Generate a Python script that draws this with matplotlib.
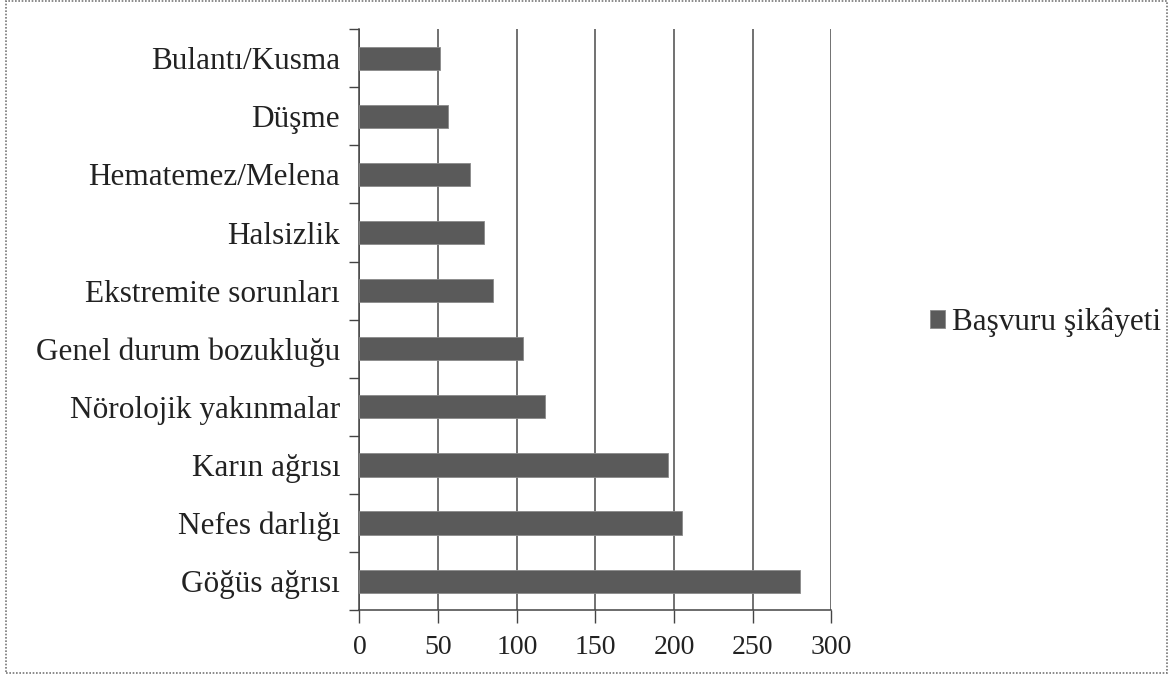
import matplotlib
matplotlib.use("Agg")
import matplotlib.pyplot as plt
from matplotlib.patches import Rectangle
from matplotlib.ticker import FixedLocator

categories = ["Göğüs ağrısı", "Nefes darlığı", "Karın ağrısı", "Nörolojik yakınmalar",
              "Genel durum bozukluğu", "Ekstremite sorunları", "Halsizlik",
              "Hematemez/Melena", "Düşme", "Bulantı/Kusma"]
values = [280, 205, 196, 118, 104, 85, 79, 70, 56, 51]
series_name = "Başvuru şikâyeti"
xticks = [0, 50, 100, 150, 200, 250, 300]

plt.rcParams['font.family'] = ['Liberation Serif', 'DejaVu Serif']

fig = plt.figure(figsize=(11.71, 6.78), dpi=100)
ax = fig.add_axes([0.307, 0.100, 0.403, 0.857])

ypos = list(range(len(categories)))
ax.barh(ypos, values, height=0.4, color="#5a5a5a", edgecolor="#8a8a8a",
        linewidth=0.6, label=series_name, zorder=3)

ax.set_xlim(0, 300)
ax.set_ylim(-0.5, len(categories) - 0.5)
ax.set_xticks(xticks)
ax.set_xticklabels([str(t) for t in xticks], fontsize=20, color="#222222")
ax.set_yticks(ypos)
ax.set_yticklabels(categories, fontsize=22.5, color="#222222")
ax.tick_params(axis='y', length=0, pad=14)
ax.yaxis.set_minor_locator(FixedLocator([i - 0.5 for i in range(len(categories) + 1)]))
ax.tick_params(axis='y', which='minor', length=7, width=1, color="#444444", direction='out')
ax.tick_params(axis='x', length=9, width=1, color="#444444", direction='out', pad=9)

ax.grid(axis='x', color="#4a4a4a", linewidth=1.1, zorder=0)
for s in ["top", "right"]:
    ax.spines[s].set_visible(False)
for s in ["left", "bottom"]:
    ax.spines[s].set_color("#444444")
    ax.spines[s].set_linewidth(1.1)

leg = fig.legend(loc="center left", bbox_to_anchor=(0.794, 0.525), frameon=False,
                 fontsize=22.5, handlelength=0.5, handleheight=0.5, handletextpad=0.2,
                 borderpad=0, borderaxespad=0)
for t in leg.get_texts():
    t.set_color("#222222")

fig.patches.append(Rectangle((0.005, 0.008), 0.992, 0.99, transform=fig.transFigure,
                             fill=False, edgecolor="#777777", linewidth=1.2, linestyle=(0, (1, 1))))

fig.savefig("out.png", dpi=100, facecolor="white")
